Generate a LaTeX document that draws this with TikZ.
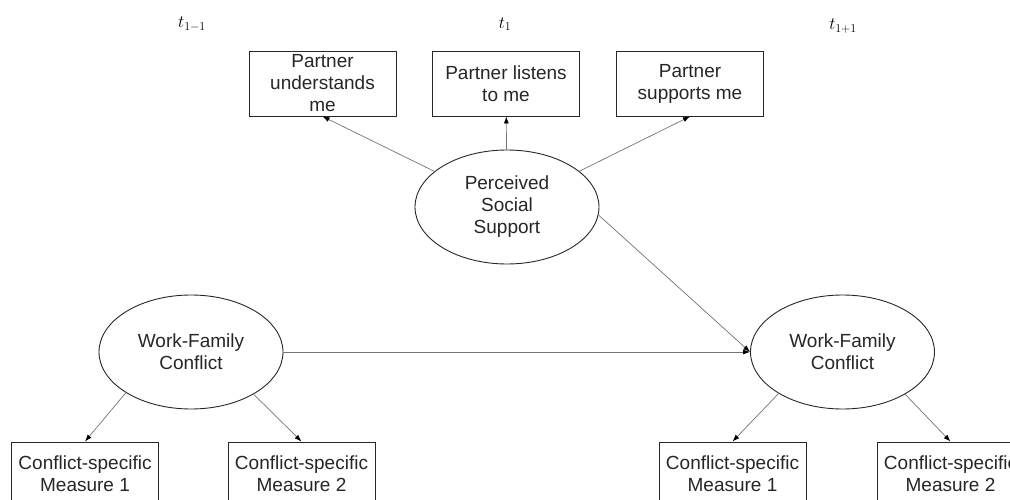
\documentclass[tikz,border=0pt]{standalone}
\usepackage{fontspec}
\setmainfont{Liberation Sans}
\usetikzlibrary{shapes.geometric, arrows.meta}

\begin{document}
\begin{tikzpicture}[x=1pt, y=-1pt,
    latent/.style={draw=black!85, line width=0.9pt, ellipse, minimum width=184pt,
      minimum height=114pt, inner sep=0pt, align=center, text=black!85,
      font=\fontsize{19}{22}\selectfont},
    item/.style={draw=black!85, line width=0.9pt, rectangle, minimum width=147pt,
      inner sep=0pt, align=center, text=black!85, font=\fontsize{19}{22}\selectfont},
    link/.style={draw=black!55, line width=0.7pt, -{Latex[black, length=7pt, width=5pt]}},
    wave/.style={font=\fontsize{18}{20}\selectfont}]
    \useasboundingbox (0,0) rectangle (1010,500);
    \clip (0,0) rectangle (1010,500);
    % time points
    \node[wave] (tpre) at (192,24) {$t_{1-1}$};
    \node[wave] (tnow) at (505,24) {$t_{1}$};
    \node[wave] (tpost) at (843,26) {$t_{1+1}$};
    % support and its indicators
    \node[latent] (pss) at (507,207) {Perceived\\Social\\Support};
    \node[item, minimum height=65pt] (pum) at (322.5,83.5) {Partner\\understands\\me};
    \node[item, minimum height=65pt] (plm) at (506,83.5) {Partner listens\\to me};
    \node[item, minimum height=65pt] (psm) at (690,83.5) {Partner\\supports me};
    % conflict at both waves
    \node[latent] (wfcpre) at (191,352) {Work-Family\\Conflict};
    \node[latent] (wfcpost) at (842.5,352) {Work-Family\\Conflict};
    \node[item, minimum height=64pt] (mpre1) at (85,474) {Conflict-specific\\Measure 1};
    \node[item, minimum height=64pt] (mpre2) at (301.5,474) {Conflict-specific\\Measure 2};
    \node[item, minimum height=64pt] (mpost1) at (732.5,474) {Conflict-specific\\Measure 1};
    \node[item, minimum height=64pt] (mpost2) at (950.5,474) {Conflict-specific\\Measure 2};
    % paths
    \draw[link] (pss) -- (pum.south);
    \draw[link] (pss) -- (plm);
    \draw[link] (pss) -- (psm.south);
    \draw[link] (pss.-5) -- (wfcpost.west);
    \draw[link] (wfcpre) -- (wfcpost);
    \draw[link] (wfcpre.-148) -- (mpre1.north);
    \draw[link] (wfcpre.-34) -- (mpre2.north);
    \draw[link] (wfcpost.-147) -- (mpost1.north);
    \draw[link] (wfcpost.-34) -- (mpost2.north);
\end{tikzpicture}
\end{document}
